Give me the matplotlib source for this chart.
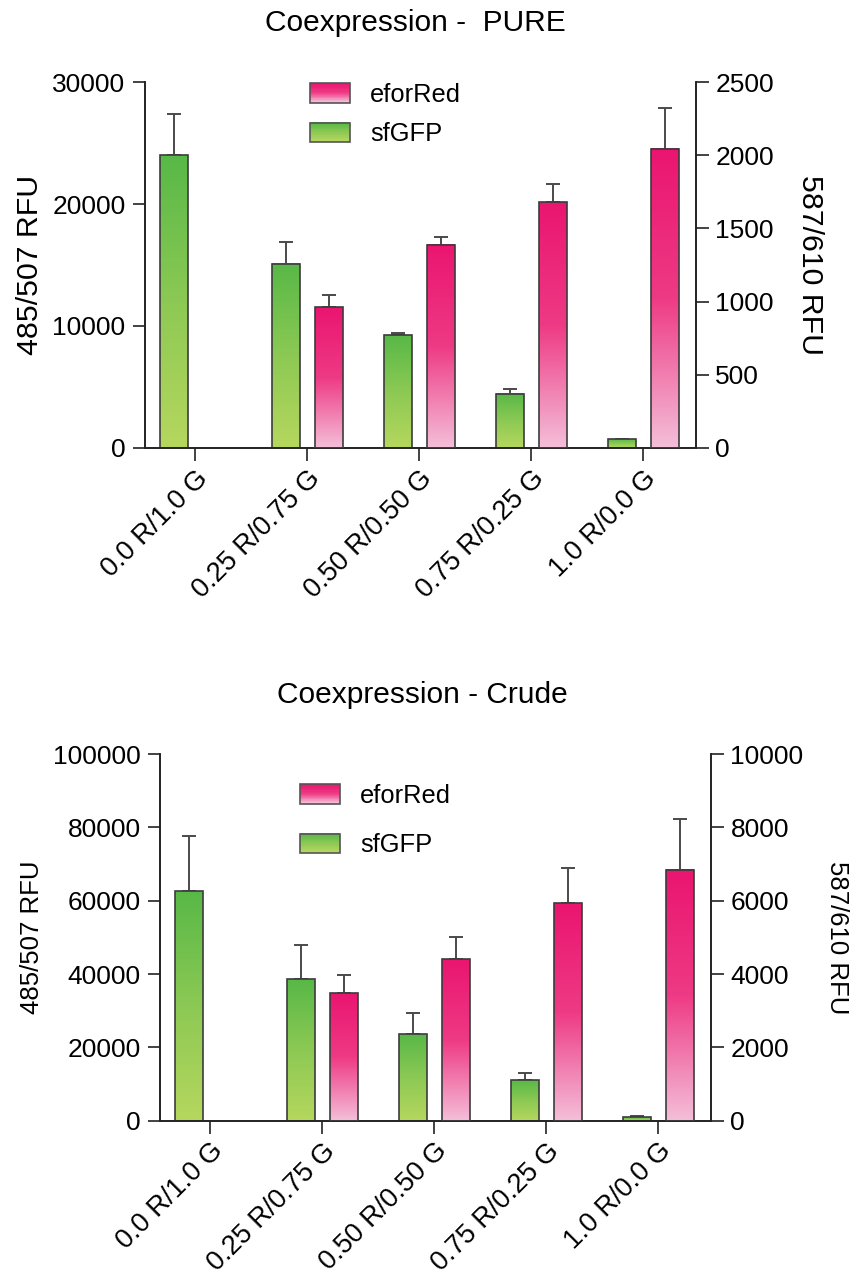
import numpy as np
import matplotlib
matplotlib.use('Agg')
import matplotlib.pyplot as plt
from matplotlib.colors import LinearSegmentedColormap
from matplotlib.legend_handler import HandlerBase
from matplotlib.patches import Rectangle

plt.rcParams['font.family'] = ['Liberation Sans', 'DejaVu Sans']

groups = ['0.0 R/1.0 G', '0.25 R/0.75 G', '0.50 R/0.50 G', '0.75 R/0.25 G', '1.0 R/0.0 G']

# PURE
pure_gfp = [24000, 15100, 9250, 4450, 720]
pure_gfp_err = [3400, 1750, 150, 380, 50]
pure_red = [np.nan, 960, 1390, 1680, 2045]
pure_red_err = [np.nan, 85, 50, 125, 275]

# Crude
crude_gfp = [62700, 38600, 23600, 11100, 900]
crude_gfp_err = [14900, 9300, 5800, 1800, 250]
crude_red = [np.nan, 3480, 4400, 5940, 6850]
crude_red_err = [np.nan, 490, 600, 960, 1390]

green_cmap = LinearSegmentedColormap.from_list('g', ['#58B847', '#8CC954', '#B6D75E'])
pink_cmap = LinearSegmentedColormap.from_list('p', [(0, '#EA1570'), (0.5, '#EE3A84'), (1, '#F4BFD9')])

W = 0.25
OFF = 0.19
EDGE = '#3c3c3c'
GRAD = np.linspace(0, 1, 256).reshape(-1, 1)


def grad_bars(ax, x, vals, errs, cmap):
    bars = ax.bar(x, vals, W, facecolor='none', edgecolor=EDGE, linewidth=1.2, zorder=3)
    for b in bars:
        h = b.get_height()
        if not np.isfinite(h) or h <= 0:
            continue
        x0 = b.get_x()
        # row 0 of GRAD (dark) goes to the top of the bar
        ax.imshow(GRAD, cmap=cmap, extent=[x0, x0 + W, 0, h], aspect='auto',
                  origin='upper', zorder=2, interpolation='bicubic')
    ax.errorbar(x, vals, yerr=[np.zeros(len(vals)), errs], fmt='none', ecolor='#4a4a4a',
                elinewidth=1.4, capsize=4.7, capthick=1.4, zorder=1)


class GradHandler(HandlerBase):
    def __init__(self, cmap):
        super().__init__()
        self.cmap = cmap

    def create_artists(self, legend, orig_handle, xdescent, ydescent, width, height, fontsize, trans):
        arts = []
        n = 30
        for i in range(n):
            r = Rectangle((-xdescent, -ydescent + height * (1 - (i + 1) / n)), width, height / n + 0.3,
                          facecolor=self.cmap(i / (n - 1)), edgecolor='none', transform=trans)
            arts.append(r)
        arts.append(Rectangle((-xdescent, -ydescent), width, height, facecolor='none',
                              edgecolor='#555555', linewidth=1.2, transform=trans))
        return arts


def panel(rect, gfp, gfp_err, red, red_err, lmax, lstep, rmax, rstep, title, title_x, lab_size,
          leg_anchor, leg_space):
    ax = fig.add_axes(rect)
    ax2 = ax.twinx()
    x = np.arange(len(groups))
    grad_bars(ax, x - OFF, gfp, gfp_err, green_cmap)
    grad_bars(ax2, x + OFF, red, red_err, pink_cmap)
    for a in (ax, ax2):
        a.set_xlim(-0.45, 4.47)
        a.spines['top'].set_visible(False)
        for s in a.spines.values():
            s.set_linewidth(1.2)
            s.set_color('#222222')
        a.tick_params(length=9, width=1.2, labelsize=19, pad=5, colors='#222222', labelcolor='black')
    ax.set_ylim(0, lmax)
    ax2.set_ylim(0, rmax)
    ax.set_yticks(np.arange(0, lmax + 1, lstep))
    ax2.set_yticks(np.arange(0, rmax + 1, rstep))
    ax.set_xticks(x)
    ax.set_xticklabels(groups, rotation=45, ha='right', va='top', rotation_mode='anchor', fontsize=19.5)
    ax.tick_params(axis='x', pad=3.5)
    ax.set_ylabel('485/507 RFU', fontsize=lab_size, labelpad=6)
    ax2.set_ylabel('587/610 RFU', fontsize=lab_size, rotation=270, labelpad=lab_size + 14)
    fig.text(title_x, rect[1] + rect[3] + 0.046, title, fontsize=21.5, ha='center', va='center')
    handles = [Rectangle((0, 0), 1, 1), Rectangle((0, 0), 1, 1)]
    ax2.legend(handles, ['eforRed', 'sfGFP'], frameon=False, fontsize=18.4,
               handler_map={handles[0]: GradHandler(pink_cmap), handles[1]: GradHandler(green_cmap)},
               handlelength=1.56, handleheight=0.78, handletextpad=0.8, labelspacing=leg_space,
               borderpad=0, borderaxespad=0, loc='upper left',
               bbox_to_anchor=leg_anchor, bbox_transform=fig.transFigure)
    return ax, ax2


fig = plt.figure(figsize=(8.56, 12.77), dpi=100)
panel([145 / 856, 1 - 448 / 1277, 551 / 856, 366 / 1277], pure_gfp, pure_gfp_err, pure_red, pure_red_err,
      30000, 10000, 2500, 500, 'Coexpression -  PURE', 415 / 856, 21.8, (310 / 856, 1 - 83 / 1277), 0.6)
panel([160 / 856, 1 - 1120.7 / 1277, 551 / 856, 366.7 / 1277], crude_gfp, crude_gfp_err, crude_red, crude_red_err,
      100000, 20000, 10000, 2000, 'Coexpression - Crude', 422 / 856, 18.5, (300 / 856, 1 - 784 / 1277), 0.99)

fig.savefig('out.png', dpi=100)
